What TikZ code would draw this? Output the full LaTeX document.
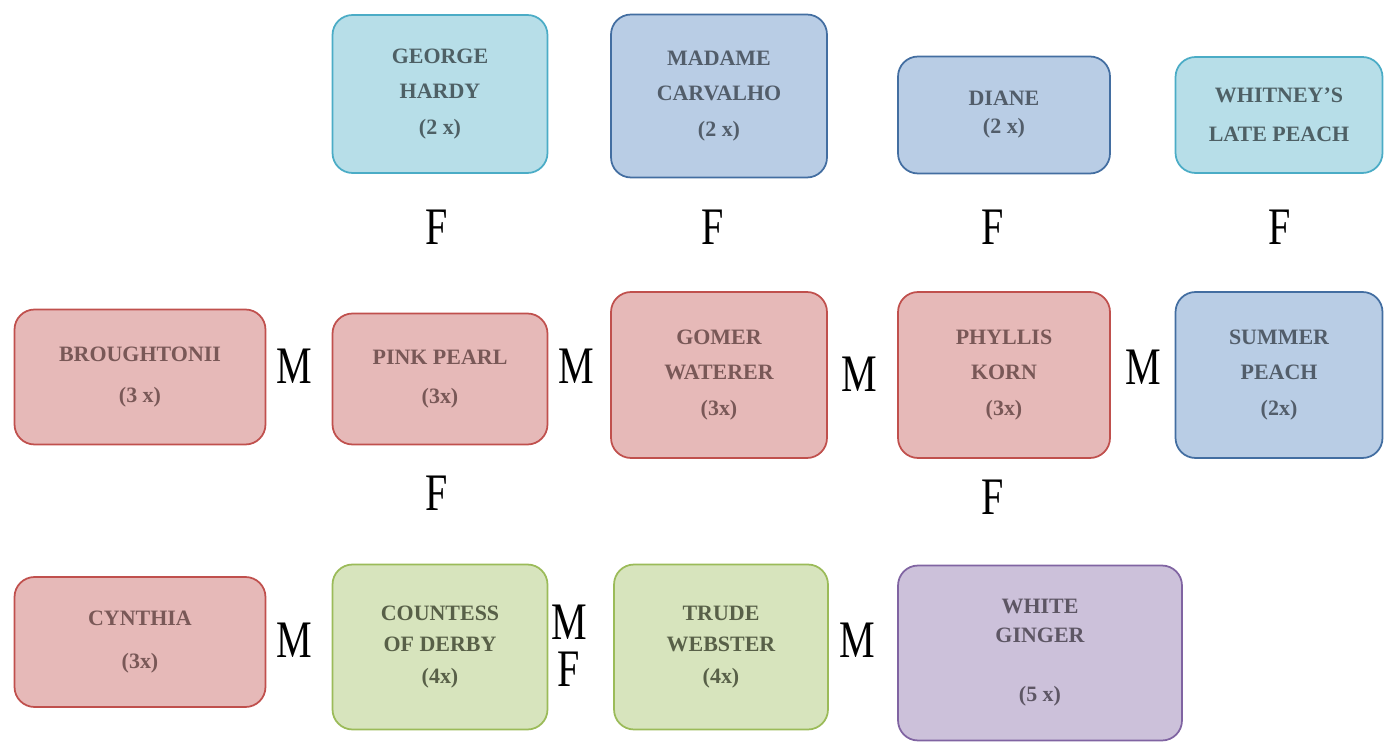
\documentclass[tikz,border=0pt]{standalone}
\usepackage{fontspec}
\setmainfont{Liberation Serif}
\usepackage{tikz}
\usetikzlibrary{positioning}

\definecolor{pinkfill}{HTML}{E6B9B8}
\definecolor{pinkdraw}{HTML}{C0504D}
\definecolor{bluefill}{HTML}{B9CDE5}
\definecolor{bluedraw}{HTML}{4F81BD}
\definecolor{cyanfill}{HTML}{B7DEE8}
\definecolor{cyandraw}{HTML}{4BACC6}
\definecolor{greenfill}{HTML}{D7E4BD}
\definecolor{greendraw}{HTML}{9BBB59}
\definecolor{purplefill}{HTML}{CCC1DA}
\definecolor{purpledraw}{HTML}{8064A2}

\begin{document}
\begin{tikzpicture}[
  x=0.02cm, y=-0.02cm,
  box/.style={draw,rounded corners=0.4cm,line width=1pt,align=center,
    inner sep=0pt,font=\fontsize{12.5}{20}\selectfont\bfseries},
  pinkbox/.style={box,fill=pinkfill,draw=pinkdraw,text=pinkdraw!40!black!75},
  bluebox/.style={box,fill=bluefill,draw=bluedraw!85!black,text=bluedraw!30!black!75},
  cyanbox/.style={box,fill=cyanfill,draw=cyandraw,text=cyandraw!25!black!75},
  greenbox/.style={box,fill=greenfill,draw=greendraw,text=greendraw!30!black!80},
  purplebox/.style={box,fill=purplefill,draw=purpledraw,text=purpledraw!30!black!75},
  lbl/.style={font=\fontsize{30}{27}\selectfont,xscale=0.76,inner sep=0pt,align=center}]

 \useasboundingbox (0,0) rectangle (1385,742);

 % ---- top row ----
 \node[cyanbox,minimum width=4.3cm,minimum height=3.16cm] (hardy) at (440,94)
   {GEORGE\\HARDY\\(2 x)};
 \node[bluebox,minimum width=4.32cm,minimum height=3.26cm] (carvalho) at (719,96)
   {MADAME\\CARVALHO\\(2 x)};
 \node[bluebox,minimum width=4.24cm,minimum height=2.34cm] (diane) at (1004,115)
   {DIANE\\[-4pt](2 x)};
 \node[cyanbox,minimum width=4.14cm,minimum height=2.32cm] (whitney) at (1279,115)
   {WHITNEY'S\\[2pt]LATE PEACH};

 \node[lbl] (f1) at (437,227) {F};
 \node[lbl] (f2) at (713,227) {F};
 \node[lbl] (f3) at (993,227) {F};
 \node[lbl] (f4) at (1280,227) {F};

 % ---- middle row ----
 \node[pinkbox,minimum width=5.02cm,minimum height=2.7cm] (broughtonii) at (140,377)
   {BROUGHTONII\\[3pt](3 x)};
 \node[pinkbox,minimum width=4.3cm,minimum height=2.62cm] (pinkpearl) at (440,379)
   {PINK PEARL\\[2pt](3x)};
 \node[pinkbox,minimum width=4.32cm,minimum height=3.32cm] (gomer) at (719,375)
   {GOMER\\WATERER\\(3x)};
 \node[pinkbox,minimum width=4.24cm,minimum height=3.32cm] (phyllis) at (1004,375)
   {PHYLLIS\\KORN\\(3x)};
 \node[bluebox,minimum width=4.14cm,minimum height=3.32cm] (summer) at (1279,375)
   {SUMMER\\PEACH\\(2x)};

 \node[lbl] (m1) at (294,366) {M};
 \node[lbl] (m2) at (576,366) {M};
 \node[lbl] (m3) at (859,374) {M};
 \node[lbl] (m4) at (1143,367) {M};

 \node[lbl] (f5) at (437,493) {F};
 \node[lbl] (f6) at (993,497) {F};

 % ---- bottom row ----
 \node[pinkbox,minimum width=5.02cm,minimum height=2.6cm] (cynthia) at (140,642)
   {CYNTHIA\\[4pt](3x)};
 \node[greenbox,minimum width=4.3cm,minimum height=3.3cm] (countess) at (440,647)
   {COUNTESS\\[-2pt]OF DERBY\\[-2pt](4x)};
 \node[greenbox,minimum width=4.28cm,minimum height=3.3cm] (trude) at (721,647)
   {TRUDE\\[-2pt]WEBSTER\\[-2pt](4x)};
 \node[purplebox,minimum width=5.68cm,minimum height=3.5cm] (ginger) at (1040,653)
   {WHITE\\[-4pt]GINGER\\[14pt](5 x)};

 \node[lbl] (m5) at (294,640) {M};
 \node[lbl] (mf) at (569,646) {M\\F};
 \node[lbl] (m7) at (857,640) {M};
\end{tikzpicture}
\end{document}
